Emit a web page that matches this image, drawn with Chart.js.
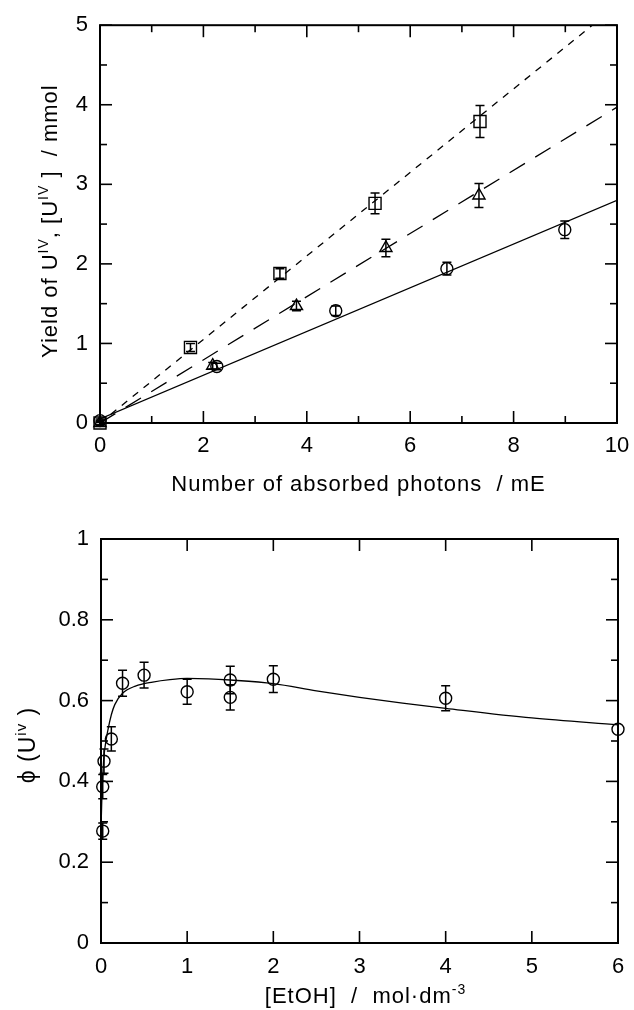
<!DOCTYPE html>
<html><head><meta charset="utf-8">
<script src="https://cdn.jsdelivr.net/npm/chart.js@4.4.1/dist/chart.umd.min.js"></script>
<style>
html,body{margin:0;padding:0;background:#fff;}
#wrap{position:relative;width:634px;height:1010px;overflow:hidden;}
.box{position:absolute;left:0;width:634px;}
#b1{top:0;height:500px;}
#b2{top:500px;height:510px;}
</style></head><body>
<div id="wrap">
<div class="box" id="b1"><canvas id="c1"></canvas></div>
<div class="box" id="b2"><canvas id="c2"></canvas></div>
</div>
<script>
// ---------- Top chart data (Number of absorbed photons / mE vs yield) ----------
const sqX   = [0, 1.75, 3.48, 5.32, 7.35];
const sqY   = [0, 0.95, 1.88, 2.76, 3.79];
const sqErr = [0.03, 0.05, 0.06, 0.13, 0.20];

const triX   = [0, 2.18, 3.80, 5.53, 7.33];
const triY   = [0, 0.72, 1.47, 2.20, 2.86];
const triErr = [0.02, 0.04, 0.06, 0.11, 0.15];

const cirX   = [0, 2.26, 4.56, 6.71, 8.99];
const cirY   = [0.03, 0.71, 1.41, 1.94, 2.43];
const cirErr = [0.02, 0.04, 0.06, 0.08, 0.11];

const sqFitX  = [0, 10];  const sqFitY  = [0, 5.25];
const triFitX = [0, 10];  const triFitY = [0, 3.97];
const cirFitX = [0, 10];  const cirFitY = [0.05, 2.80];

const topXMajor = [0, 2, 4, 6, 8, 10];
const topXMinor = [1, 3, 5, 7, 9];
const topYMajor = [0, 1, 2, 3, 4, 5];
const topYMinor = [0.5, 1.5, 2.5, 3.5, 4.5];

// ---------- Bottom chart data ([EtOH] vs quantum yield) ----------
const etohX  = [0.02, 0.02, 0.035, 0.12, 0.25, 0.5, 1.0, 1.5, 1.5, 2.0, 4.0, 6.0];
const phiY   = [0.277, 0.387, 0.45, 0.505, 0.643, 0.663, 0.622, 0.651, 0.608, 0.653, 0.606, 0.529];
const phiErr = [0.02, 0.03, 0.03, 0.03, 0.032, 0.032, 0.031, 0.034, 0.031, 0.033, 0.031, 0];

const phiFitX = [0, 0.01, 0.03, 0.05, 0.08, 0.12, 0.16, 0.25, 0.4, 0.6, 0.8, 1.0, 1.25, 1.5, 2.0, 2.5, 3.0, 3.5, 4.0, 5.0, 6.0];
const phiFitY = [0.28, 0.36, 0.45, 0.49, 0.527, 0.565, 0.59, 0.618, 0.636, 0.646, 0.652, 0.655, 0.654, 0.651, 0.642, 0.624, 0.608, 0.594, 0.581, 0.557, 0.54];

const botXMajor = [0, 1, 2, 3, 4, 5, 6];
const botXMinor = [];
const botYMajor = [0, 0.2, 0.4, 0.6, 0.8, 1];
const botYMinor = [0.1, 0.3, 0.5, 0.7, 0.9];

// ---------- helpers ----------
const FAM = "'Liberation Sans', Arial, Helvetica, sans-serif";
const pts = (xs, ys) => xs.map((x, i) => ({x, y: ys[i]}));
Chart.defaults.color = '#000';
Chart.defaults.font.family = FAM;

function drawRich(ctx, parts, size) {
  const sub = Math.round(size * 0.64);
  let total = 0;
  const ws = parts.map(([t, s]) => {
    ctx.font = (s ? sub : size) + 'px ' + FAM;
    const w = ctx.measureText(t).width; total += w; return w;
  });
  let cx = -total / 2;
  parts.forEach(([t, s], i) => {
    ctx.font = (s ? sub : size) + 'px ' + FAM;
    ctx.fillText(t, cx, s ? -size * 0.40 : 0);
    cx += ws[i];
  });
}

const framePlugin = {
  id: 'frameTicks',
  afterDraw(chart, args, o) {
    const {ctx, chartArea: a} = chart;
    const x = chart.scales.x, y = chart.scales.y;
    ctx.save();
    ctx.strokeStyle = '#000';
    ctx.lineWidth = 1.6;
    const seg = (x1, y1, x2, y2) => { ctx.beginPath(); ctx.moveTo(x1, y1); ctx.lineTo(x2, y2); ctx.stroke(); };
    const vt = (vals, len) => vals.forEach(v => { const p = x.getPixelForValue(v); seg(p, a.bottom, p, a.bottom - len); seg(p, a.top, p, a.top + len); });
    const ht = (vals, len) => vals.forEach(v => { const p = y.getPixelForValue(v); seg(a.left, p, a.left + len, p); seg(a.right, p, a.right - len, p); });
    vt(o.xMajor, 12); vt(o.xMinor, 7); ht(o.yMajor, 12); ht(o.yMinor, 7);
    ctx.lineWidth = 2;
    ctx.strokeRect(a.left, a.top, a.right - a.left, a.bottom - a.top);
    // titles
    ctx.fillStyle = '#000';
    ctx.textAlign = 'left';
    ctx.textBaseline = 'alphabetic';
    try { ctx.letterSpacing = o.spacing || '0px'; } catch (e) {}
    ctx.save();
    ctx.translate((a.left + a.right) / 2 + (o.xTitleShift || 0), a.bottom + o.xTitleOffset);
    drawRich(ctx, o.xTitle, o.titleSize);
    ctx.restore();
    ctx.save();
    ctx.translate(o.yTitleX, (a.top + a.bottom) / 2 + (o.yTitleShift || 0));
    ctx.rotate(-Math.PI / 2);
    drawRich(ctx, o.yTitle, o.yTitleSize || o.titleSize);
    ctx.restore();
    try { ctx.letterSpacing = '0px'; } catch (e) {}
    ctx.restore();
  }
};

const errPlugin = {
  id: 'errBars',
  afterDatasetsDraw(chart) {
    const {ctx} = chart;
    const x = chart.scales.x, y = chart.scales.y;
    ctx.save();
    ctx.strokeStyle = '#000';
    ctx.lineWidth = 1.5;
    chart.data.datasets.forEach(ds => {
      if (!ds.errors) return;
      ds.data.forEach((p, i) => {
        const e = ds.errors[i];
        if (!e) return;
        const px = x.getPixelForValue(p.x);
        const y1 = y.getPixelForValue(p.y + e), y2 = y.getPixelForValue(p.y - e);
        ctx.beginPath();
        ctx.moveTo(px, y1); ctx.lineTo(px, y2);
        ctx.moveTo(px - 4.5, y1); ctx.lineTo(px + 4.5, y1);
        ctx.moveTo(px - 4.5, y2); ctx.lineTo(px + 4.5, y2);
        ctx.stroke();
      });
    });
    ctx.restore();
  }
};

function markers(xs, ys, errs, style, r) {
  return {data: pts(xs, ys), errors: errs, showLine: false, pointStyle: style, pointRadius: r,
    pointBorderColor: '#000', pointBackgroundColor: 'rgba(0,0,0,0)', pointBorderWidth: 1.4, clip: false};
}
function fit(xs, ys, dash, smooth) {
  return {data: pts(xs, ys), showLine: true, pointRadius: 0, borderColor: '#000', borderWidth: 1.3,
    borderDash: dash, tension: smooth ? 0.4 : 0, cubicInterpolationMode: smooth ? 'monotone' : 'default', fill: false};
}

const fmt = v => String(Number(v.toFixed(2)));

function axis(min, max, step, pad, extra) {
  return Object.assign({
    type: 'linear', min, max,
    ticks: {stepSize: step, padding: pad, color: '#000', font: {size: 22, family: FAM}, maxRotation: 0, autoSkip: false, callback: fmt},
    grid: {display: false, drawTicks: false},
    border: {display: false},
    title: {display: false}
  }, extra || {});
}
const fitX = h => s => { s.height = h; s.paddingLeft = 0; s.paddingRight = 0; };
const fitY = w => s => { s.width = w; };

// ---------- Top chart ----------
new Chart(document.getElementById('c1'), {
  type: 'scatter',
  data: {datasets: [
    fit(sqFitX, sqFitY, [7, 7]),
    fit(triFitX, triFitY, [18, 12]),
    fit(cirFitX, cirFitY, []),
    markers(sqX, sqY, sqErr, 'rect', 8.5),
    markers(triX, triY, triErr, 'triangle', 7),
    markers(cirX, cirY, cirErr, 'circle', 6)
  ]},
  options: {
    responsive: true, maintainAspectRatio: false, animation: false,
    layout: {padding: {left: 0, top: 20, right: 17, bottom: 0}},
    scales: {
      x: axis(0, 10, 2, 10, {afterFit: fitX(77)}),
      y: axis(0, 5, 1, 12, {afterFit: fitY(100)})
    },
    plugins: {
      legend: {display: false}, tooltip: {enabled: false},
      frameTicks: {
        xMajor: topXMajor, xMinor: topXMinor, yMajor: topYMajor, yMinor: topYMinor,
        titleSize: 22, spacing: '1px',
        xTitle: [['Number of absorbed photons  / mE', 0]], xTitleOffset: 68,
        yTitle: [['Yield of U', 0], ['IV', 1], [', [U', 0], ['IV', 1], [' ]  / mmol', 0]],
        yTitleX: 57, yTitleShift: -3
      }
    }
  },
  plugins: [framePlugin, errPlugin]
});

// ---------- Bottom chart ----------
new Chart(document.getElementById('c2'), {
  type: 'scatter',
  data: {datasets: [
    fit(phiFitX, phiFitY, [], true),
    markers(etohX, phiY, phiErr, 'circle', 6)
  ]},
  options: {
    responsive: true, maintainAspectRatio: false, animation: false,
    layout: {padding: {left: 0, top: 39, right: 16, bottom: 0}},
    scales: {
      x: axis(0, 6, 1, 11, {afterFit: fitX(67)}),
      y: axis(0, 1, 0.2, 12, {afterFit: fitY(101)})
    },
    plugins: {
      legend: {display: false}, tooltip: {enabled: false},
      frameTicks: {
        xMajor: botXMajor, xMinor: botXMinor, yMajor: botYMajor, yMinor: botYMinor,
        titleSize: 22, spacing: '1px',
        xTitle: [['[EtOH]  /  mol\u00B7dm', 0], ['-3', 1]], xTitleOffset: 60, xTitleShift: 6,
        yTitle: [['\u03D5 (U', 0], ['iv', 1], [' )', 0]], yTitleSize: 23,
        yTitleX: 35, yTitleShift: 4
      }
    }
  },
  plugins: [framePlugin, errPlugin]
});
</script>
</body></html>
